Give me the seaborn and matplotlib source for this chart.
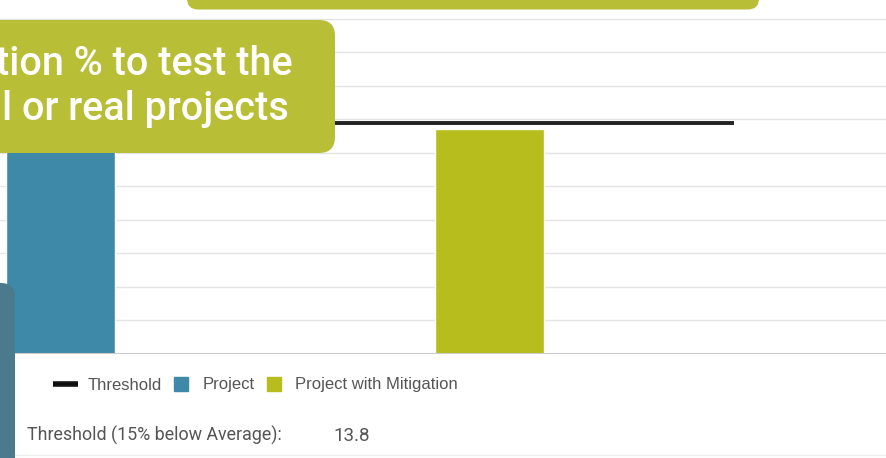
import numpy as np
import pandas as pd
import matplotlib
matplotlib.use("Agg")
import matplotlib.pyplot as plt
from matplotlib.patches import FancyBboxPatch
from matplotlib.lines import Line2D
import seaborn as sns

# ---------------- data ----------------
categories = ["Project", "Project with Mitigation"]
values = [16.5, 13.4]          # first bar top is hidden behind the callout
threshold = 13.8
threshold_label = "Threshold (15% below Average):"
callout_lines = ["tion % to test the", "l or real projects"]

BLUE = "#3f89a8"
GREEN = "#b6bd1c"
CALLOUT = "#b8bf36"
SLATE = "#4b7a8d"
TXT = "#555555"

sns.set_theme(style="white")
plt.rcParams['font.family'] = ['Roboto', 'DejaVu Sans']

W, H = 887, 458
fig = plt.figure(figsize=(W / 100, H / 100), dpi=100)
fig.patch.set_facecolor("white")

# chart axes: baseline at y=354px, 16.76 px per unit, bars 429 px apart
base_px = 354
ppu = 16.76
ax = fig.add_axes([0, (H - base_px) / H, 1, base_px / H])
df = pd.DataFrame({"category": categories, "value": values})
sns.barplot(data=df, x="category", y="value", hue="category",
            palette=[BLUE, GREEN], width=0.254, saturation=1,
            legend=False, ax=ax, zorder=3)
ax.hlines(threshold, -0.5, 1.57, color="#222222", lw=2.8, zorder=4)

ax.set_xlim(-60.5 / 429, (W - 60.5) / 429)
ax.set_ylim(0, base_px / ppu)
ax.set_yticks(np.arange(0, 21, 2))
ax.grid(axis="y", color="#e4e4e4", lw=1)
ax.axhline(0, color="#cccccc", lw=1.5, zorder=5)
ax.tick_params(left=False, bottom=False, labelleft=False, labelbottom=False)
ax.set_xlabel("")
ax.set_ylabel("")
for s in ax.spines.values():
    s.set_visible(False)

# legend
handles = [
    Line2D([], [], color="#111111", lw=4, solid_capstyle="butt"),
    Line2D([], [], marker="s", ls="", color=BLUE, markersize=9.5),
    Line2D([], [], marker="s", ls="", color=GREEN, markersize=9.5),
]
fig.legend(handles, ["Threshold", "Project", "Project with Mitigation"],
           loc="center left", bbox_to_anchor=(53 / W, 1 - 385 / H),
           ncol=3, frameon=False, handlelength=1.5, handletextpad=0.55,
           columnspacing=0.4, borderpad=0, borderaxespad=0,
           prop={"family": "Liberation Sans", "size": 12}, labelcolor=TXT)

# overlay in pixel coordinates
ov = fig.add_axes([0, 0, 1, 1], zorder=10)
ov.set_xlim(0, W)
ov.set_ylim(H, 0)
ov.axis("off")
ov.patch.set_alpha(0)

ov.text(27, 441, threshold_label, fontsize=12.9, color=TXT, va="baseline")
ov.text(333, 441, f"{threshold}", fontsize=13.5, color=TXT, va="baseline")
ov.axhline(455, xmin=15 / W, color="#eeeeee", lw=1)

ov.add_patch(FancyBboxPatch((187, -30), 572, 39.5,
                            boxstyle="round,pad=0,rounding_size=11",
                            fc=CALLOUT, ec="none"))
ov.add_patch(FancyBboxPatch((-40, 20), 375, 133,
                            boxstyle="round,pad=0,rounding_size=16",
                            fc=CALLOUT, ec="none"))
ov.text(293, 75, callout_lines[0], fontsize=28.5, color="white",
        fontweight="medium", ha="right", va="baseline")
ov.text(289, 120, callout_lines[1], fontsize=28.5, color="white",
        fontweight="medium", ha="right", va="baseline")
ov.add_patch(FancyBboxPatch((-40, 283), 55, 220,
                            boxstyle="round,pad=0,rounding_size=14",
                            fc=SLATE, ec="none"))

fig.savefig("out.png", dpi=100)
